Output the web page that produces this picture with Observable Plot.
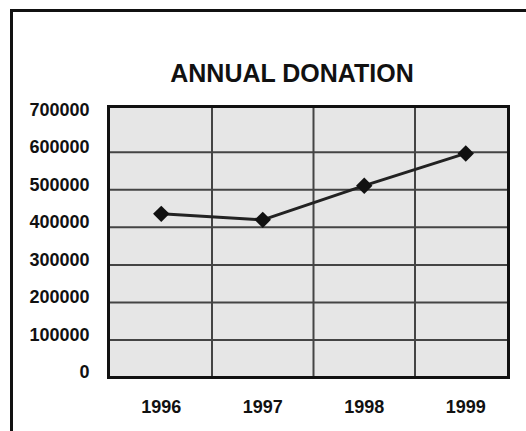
<!DOCTYPE html>
<html>
<head>
<meta charset="utf-8">
<script src="https://cdn.jsdelivr.net/npm/d3@7"></script>
<script src="https://cdn.jsdelivr.net/npm/@observablehq/plot@0.6"></script>
<style>
  html, body { margin: 0; padding: 0; background: #fff; }
  #wrap { position: relative; width: 526px; height: 431px; overflow: hidden; }
  #border { position: absolute; left: 10px; top: 9px; width: 600px; height: 500px;
            border-left: 3px solid #111; border-top: 3px solid #111; }
  #title { position: absolute; left: 0; width: 584px; top: 61px; text-align: center;
           font-family: "Liberation Sans", Arial, sans-serif; font-weight: bold;
           font-size: 25px; line-height: 25px; color: #111; }
  #chart { position: absolute; left: 0; top: 0; }
</style>
</head>
<body>
<div id="wrap">
  <div id="border"></div>
  <div id="chart"></div>
  <div id="title">ANNUAL DONATION</div>
</div>
<script>
const years = [1996, 1997, 1998, 1999];
const donations = [436000, 420000, 511000, 597000];
const yTicks = [0, 100000, 200000, 300000, 400000, 500000, 600000, 700000];
const gridY = [100000, 200000, 300000, 400000, 500000, 600000];

const data = years.map((year, i) => ({year, value: donations[i]}));
const gridX = years.slice(0, -1).map(y => y + 0.5);

const chart = Plot.plot({
  width: 526,
  height: 431,
  marginLeft: 108,
  marginRight: 18,
  marginTop: 106,
  marginBottom: 54,
  style: {
    fontFamily: '"Liberation Sans", Arial, sans-serif',
    fontSize: "18px",
    fontWeight: "bold",
    color: "#111",
    background: "transparent",
    overflow: "visible"
  },
  x: {type: "linear", domain: [years[0] - 0.5, years[years.length - 1] + 0.5], range: [110, 516]},
  y: {domain: [0, 722000]},
  marks: [
    Plot.frame({fill: "#e6e6e6", stroke: null}),
    Plot.ruleY(gridY, {stroke: "#444", strokeWidth: 2}),
    Plot.ruleX(gridX, {stroke: "#444", strokeWidth: 2}),
    Plot.frame({stroke: "#111", strokeWidth: 3}),
    Plot.axisY({ticks: yTicks, tickSize: 0, tickPadding: 19, dy: -5, tickFormat: d3.format("d"), label: null}),
    Plot.axisX({ticks: years, tickSize: 0, tickPadding: 23, tickFormat: d => String(d), label: null}),
    Plot.line(data, {x: "year", y: "value", stroke: "#222", strokeWidth: 3}),
    Plot.dot(data, {x: "year", y: "value", symbol: "diamond2", r: 7.4, fill: "#111", stroke: null})
  ]
});
document.getElementById("chart").appendChild(chart);
</script>
</body>
</html>
